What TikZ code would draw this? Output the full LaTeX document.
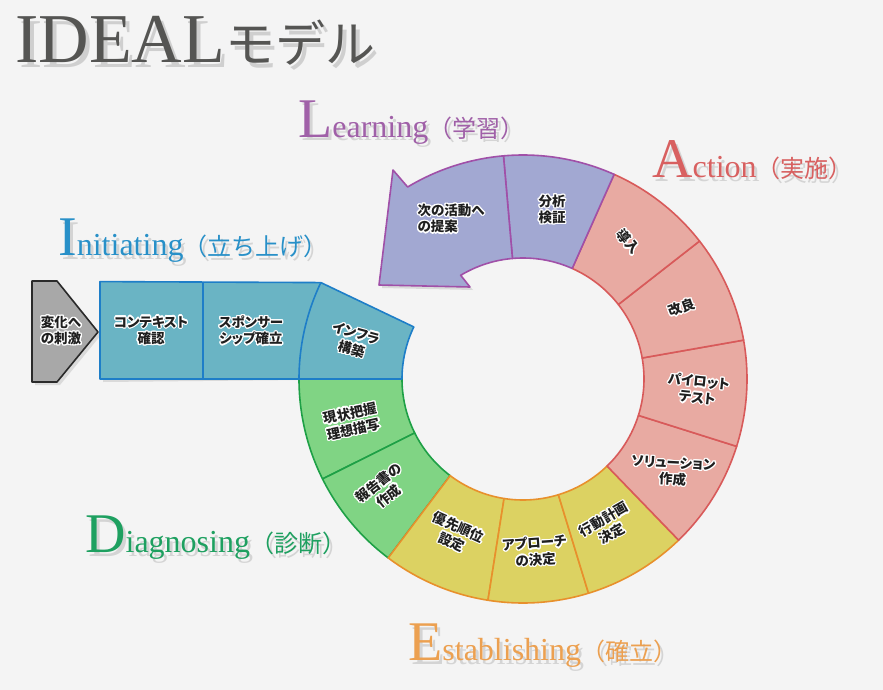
\documentclass[tikz,border=0pt]{standalone}
\usepackage{fontspec}
\setmainfont{Liberation Serif}
\newfontfamily\jp[RawFeature=+palt]{Noto Sans CJK JP}
\newfontfamily\jpt{Noto Sans CJK JP}
\usepackage{contour}
\contourlength{1.2pt}
\usetikzlibrary{calc}
\definecolor{bgc}{HTML}{F4F4F4}
\definecolor{shc}{HTML}{DADADA}
\definecolor{bluef}{HTML}{6AB4C4}
\definecolor{blued}{HTML}{1E7EC8}
\definecolor{greenf}{HTML}{80D484}
\definecolor{greend}{HTML}{1EA046}
\definecolor{yelf}{HTML}{DCD262}
\definecolor{yeld}{HTML}{E8902C}
\definecolor{pinkf}{HTML}{E8AAA2}
\definecolor{pinkd}{HTML}{D85A5A}
\definecolor{purf}{HTML}{A2A8D2}
\definecolor{purd}{HTML}{A050A8}
\definecolor{grayf}{HTML}{A8A8A8}
\definecolor{grayd}{HTML}{2A2A2A}
\definecolor{tIdeal}{HTML}{555553}
\definecolor{tL}{HTML}{A060A8}
\definecolor{tA}{HTML}{D86060}
\definecolor{tI}{HTML}{2890C8}
\definecolor{tD}{HTML}{1EA060}
\definecolor{tE}{HTML}{ECA050}
% ring sector: start, end, style
\newcommand\ringseg[3]{\path[#3] ([shift={(#1:121)}]C) arc[start angle=#1,end angle=#2,radius=121] -- ([shift={(#2:224)}]C) arc[start angle=#2,end angle=#1,radius=224] -- cycle;}
\newcommand\arrowshape[1]{\path[#1] ([shift={(95:121)}]C) arc[start angle=95,end angle=121,radius=121] -- (470,-287) -- (379,-285) -- (393,-170) -- ([shift={(121:224)}]C) arc[start angle=121,end angle=95,radius=224] -- cycle;}
\newcommand\blueshape[1]{\path[#1] (100,-281.6) -- ([shift={(154.5:224)}]C) -- ([shift={(154.5:121)}]C) arc[start angle=154.5,end angle=180,radius=121] -- (100,-379) -- cycle;}
\newcommand\grayshape[1]{\path[#1] (32,-281) -- (57,-281) -- (98,-332) -- (57,-382) -- (32,-382) -- cycle;}
\newcommand\gl[1]{\contour{white}{#1}}
\newcommand\ttl[6]{%
  \node[anchor=base west, inner sep=0, text=black!40, opacity=.35] (#1s) at ($(#2)+(3,-4)$) {{\fontsize{56}{56}\selectfont #4}{\fontsize{32}{32}\selectfont #5}{\jpt\fontsize{24}{24}\selectfont #6}};
  \node[anchor=base west, inner sep=0, text=#3] (#1) at (#2) {{\fontsize{56}{56}\selectfont #4}{\fontsize{32}{32}\selectfont #5}{\jpt\fontsize{24}{24}\selectfont #6}};}
\tikzset{lbl/.style={font=\jp\bfseries\fontsize{13.5}{16.5}\selectfont, align=center, text=black!88, inner sep=0pt},
  segline/.style={line width=1.6pt, line join=round}}
\begin{document}
\begin{tikzpicture}[x=1pt,y=1pt]
\fill[bgc] (0,0) rectangle (883,-690);
\useasboundingbox (0,0) rectangle (883,-690);
\coordinate (C) at (523,-379);
% shadows
\begin{scope}[shift={(3,-3)}]
  \ringseg{180}{370}{fill=shc}
  \ringseg{10}{95}{fill=shc}
  \arrowshape{fill=shc}
  \blueshape{fill=shc}
  \grayshape{fill=shc}
\end{scope}
% gray
\grayshape{fill=grayf, draw=grayd, segline}
% green
\ringseg{180}{206.5}{fill=greenf, draw=greend, segline}
\ringseg{206.5}{233}{fill=greenf, draw=greend, segline}
% yellow
\ringseg{233}{261}{fill=yelf, draw=yeld, segline}
\ringseg{261}{287}{fill=yelf, draw=yeld, segline}
\ringseg{287}{314}{fill=yelf, draw=yeld, segline}
% pink
\ringseg{314}{342.5}{fill=pinkf, draw=pinkd, segline}
\ringseg{342.5}{370}{fill=pinkf, draw=pinkd, segline}
\ringseg{10}{38}{fill=pinkf, draw=pinkd, segline}
\ringseg{38}{66}{fill=pinkf, draw=pinkd, segline}
% purple
\ringseg{66}{95}{fill=purf, draw=purd, segline}
\arrowshape{fill=purf, draw=purd, segline}
% blue
\blueshape{fill=bluef, draw=blued, segline}
\draw[blued, segline] (203,-281.6) -- (203,-379);
\draw[blued, segline] ([shift={(154.5:224)}]C) arc[start angle=154.5,end angle=180,radius=224];
% labels
\node[lbl] (n1) at (61,-331) {\gl{変化へ}\\\gl{の刺激}};
\node[lbl] (n2) at (151,-331) {\gl{コンテキスト}\\\gl{確認}};
\node[lbl] (n3) at (251,-331) {\gl{スポンサー}\\\gl{シップ確立}};
\node[lbl, rotate=-15] (n4) at (354,-342) {\gl{インフラ}\\\gl{構築}};
\node[lbl, align=left] (n5) at (451,-219) {\gl{次の活動へ}\\\gl{の提案}};
\node[lbl] (n6) at (552,-210) {\gl{分析}\\\gl{検証}};
\node[lbl, rotate=-50] (n7) at (628,-242) {\gl{導入}};
\node[lbl, rotate=20] (n8) at (682,-308) {\gl{改良}};
\node[lbl, rotate=-6] (n9) at (698,-390) {\gl{パイロット}\\\gl{テスト}};
\node[lbl, rotate=-3] (n10) at (673,-472) {\gl{ソリューション}\\\gl{作成}};
\node[lbl, rotate=30] (n11) at (608,-527) {\gl{行動計画}\\\gl{決定}};
\node[lbl, rotate=4] (n12) at (535,-552) {\gl{アプローチ}\\\gl{の決定}};
\node[lbl, rotate=-24] (n13) at (455,-535) {\gl{優先順位}\\\gl{設定}};
\node[lbl, rotate=38] (n14) at (384,-490) {\gl{報告書の}\\\gl{作成}};
\node[lbl, rotate=12] (n15) at (352,-422) {\gl{現状把握}\\\gl{理想描写}};
% titles
\node[anchor=base west, inner sep=0, text=black!45, opacity=.35] (ideals) at (19,-68) {{\fontsize{70}{70}\selectfont IDEAL}{\jpt\fontsize{50}{50}\selectfont モデル}};
\node[anchor=base west, inner sep=0, text=tIdeal] (ideal) at (15,-63) {{\fontsize{70}{70}\selectfont IDEAL}{\jpt\fontsize{50}{50}\selectfont モデル}};
\coordinate (pL) at (298,-137);
\coordinate (pA) at (652,-177);
\coordinate (pI) at (58,-255);
\coordinate (pD) at (85,-552);
\coordinate (pE) at (408,-660);
\ttl{tl}{pL}{tL}{L}{earning}{（学習）}
\ttl{ta}{pA}{tA}{A}{ction}{（実施）}
\ttl{ti}{pI}{tI}{I}{nitiating}{（立ち上げ）}
\ttl{td}{pD}{tD}{D}{iagnosing}{（診断）}
\ttl{te}{pE}{tE}{E}{stablishing}{（確立）}
\end{tikzpicture}
\end{document}
